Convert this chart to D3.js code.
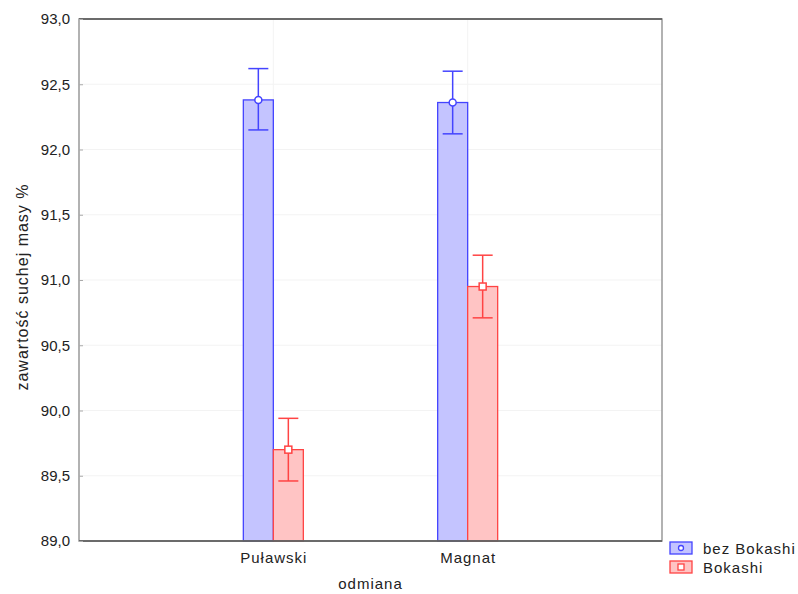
<!DOCTYPE html>
<html>
<head>
<meta charset="utf-8">
<script src="https://cdn.jsdelivr.net/npm/d3@7"></script>
<style>
body { margin: 0; background: #fff; }
text { font-family: "Liberation Sans", Arial, sans-serif; fill: #222; }
</style>
</head>
<body>
<div id="chart"></div>
<script>
var categories = ["Puławski", "Magnat"];
var seriesNames = ["bez Bokashi", "Bokashi"];
var meanBez = [92.38, 92.36];
var lowBez = [92.15, 92.12];
var highBez = [92.62, 92.60];
var meanBok = [89.70, 90.95];
var lowBok = [89.46, 90.71];
var highBok = [89.94, 91.19];
var yTicks = [89.0, 89.5, 90.0, 90.5, 91.0, 91.5, 92.0, 92.5, 93.0];

var width = 798, height = 594,
    margin = { top: 19, right: 136, bottom: 53, left: 79 },
    plotW = width - margin.left - margin.right,
    plotH = height - margin.top - margin.bottom;

var colors = [
    { fill: "#c4c4ff", stroke: "#4444ff" },
    { fill: "#ffc4c4", stroke: "#ff4444" }
];

var series = [
    { name: seriesNames[0], mean: meanBez, low: lowBez, high: highBez },
    { name: seriesNames[1], mean: meanBok, low: lowBok, high: highBok }
];

var svg = d3.select("#chart").append("svg")
    .attr("width", width)
    .attr("height", height);

var g = svg.append("g")
    .attr("transform", "translate(" + margin.left + "," + margin.top + ")");

var xScale = d3.scalePoint().domain(categories).range([0, plotW]).padding(1);
var yScale = d3.scaleLinear().domain([89, 93]).range([plotH, 0]);
var barW = 30;

// faint grid
g.selectAll(".hgrid").data(yTicks).enter().append("line")
    .attr("x1", 0).attr("x2", plotW)
    .attr("y1", function (d) { return yScale(d); })
    .attr("y2", function (d) { return yScale(d); })
    .attr("stroke", "#f3f3f3");
g.selectAll(".vgrid").data(categories).enter().append("line")
    .attr("x1", function (d) { return xScale(d); })
    .attr("x2", function (d) { return xScale(d); })
    .attr("y1", 0).attr("y2", plotH)
    .attr("stroke", "#f3f3f3");

// bars
series.forEach(function (s, si) {
    var off = si === 0 ? -barW : 0;
    var grp = g.append("g");
    grp.selectAll("rect").data(categories).enter().append("rect")
        .attr("x", function (d) { return xScale(d) + off; })
        .attr("y", function (d, i) { return yScale(s.mean[i]); })
        .attr("width", barW)
        .attr("height", function (d, i) { return plotH - yScale(s.mean[i]); })
        .attr("fill", colors[si].fill)
        .attr("stroke", colors[si].stroke)
        .attr("stroke-width", 1.3);
});

// error bars + markers
series.forEach(function (s, si) {
    var off = si === 0 ? -barW / 2 : barW / 2;
    var col = colors[si].stroke;
    var grp = g.append("g");
    categories.forEach(function (c, i) {
        var cx = xScale(c) + off;
        grp.append("line")
            .attr("x1", cx).attr("x2", cx)
            .attr("y1", yScale(s.low[i])).attr("y2", yScale(s.high[i]))
            .attr("stroke", col).attr("stroke-width", 1.5);
        [s.low[i], s.high[i]].forEach(function (v) {
            grp.append("line")
                .attr("x1", cx - 10).attr("x2", cx + 10)
                .attr("y1", yScale(v)).attr("y2", yScale(v))
                .attr("stroke", col).attr("stroke-width", 1.5);
        });
        if (si === 0) {
            grp.append("circle")
                .attr("cx", cx).attr("cy", yScale(s.mean[i])).attr("r", 3.5)
                .attr("fill", "#fff").attr("stroke", col).attr("stroke-width", 1.5);
        } else {
            grp.append("rect")
                .attr("x", cx - 3.5).attr("y", yScale(s.mean[i]) - 3.5)
                .attr("width", 7).attr("height", 7)
                .attr("fill", "#fff").attr("stroke", col).attr("stroke-width", 1.5);
        }
    });
});

// frame
g.append("rect")
    .attr("x", 0).attr("y", 0).attr("width", plotW).attr("height", plotH)
    .attr("fill", "none").attr("stroke", "#999").attr("stroke-width", 1.5);
g.append("line").attr("x1", 0).attr("x2", plotW).attr("y1", 0).attr("y2", 0)
    .attr("stroke", "#555").attr("stroke-width", 1.5);
g.append("line").attr("x1", 0).attr("x2", plotW).attr("y1", plotH).attr("y2", plotH)
    .attr("stroke", "#555").attr("stroke-width", 1.5);

// y axis
var fmt = function (d) { return d3.format(".1f")(d).replace(".", ","); };
var yAxis = d3.axisLeft(yScale).tickValues(yTicks).tickFormat(fmt).tickSize(-4).tickPadding(9);
g.append("g").attr("class", "axis axis--y")
    .call(yAxis)
    .call(function (a) {
        a.select(".domain").remove();
        a.selectAll("line").attr("stroke", "#aaa");
        a.selectAll("text").style("font-size", "15px").attr("fill", "#222");
    });

// x axis
var xAxis = d3.axisBottom(xScale).tickSize(0).tickPadding(11);
g.append("g").attr("class", "axis axis--x")
    .attr("transform", "translate(0," + plotH + ")")
    .call(xAxis)
    .call(function (a) {
        a.select(".domain").remove();
        a.selectAll("text").style("font-size", "15px").style("letter-spacing", "1px")
            .attr("fill", "#222");
    });

// axis titles
svg.append("text")
    .attr("x", margin.left + plotW / 2)
    .attr("y", 589)
    .attr("text-anchor", "middle")
    .style("font-size", "15px")
    .style("letter-spacing", "1px")
    .text("odmiana");
svg.append("text")
    .attr("transform", "translate(28," + 287 + ") rotate(-90)")
    .attr("text-anchor", "middle")
    .style("font-size", "16px")
    .style("letter-spacing", "1px")
    .text("zawartość suchej masy %");

// legend
var legend = svg.selectAll(".legend").data(series).enter().append("g")
    .attr("class", "legend")
    .attr("transform", function (d, i) { return "translate(670," + (542 + i * 19) + ")"; });
legend.append("rect")
    .attr("width", 22).attr("height", 12)
    .attr("fill", function (d, i) { return colors[i].fill; })
    .attr("stroke", function (d, i) { return colors[i].stroke; })
    .attr("stroke-width", 1.3);
legend.each(function (d, i) {
    var l = d3.select(this);
    if (i === 0) {
        l.append("circle").attr("cx", 11).attr("cy", 6).attr("r", 2.5)
            .attr("fill", "#fff").attr("stroke", colors[i].stroke).attr("stroke-width", 1.3);
    } else {
        l.append("rect").attr("x", 8).attr("y", 3).attr("width", 6).attr("height", 6)
            .attr("fill", "#fff").attr("stroke", colors[i].stroke).attr("stroke-width", 1.3);
    }
});
legend.append("text")
    .attr("x", 33).attr("y", 12)
    .style("font-size", "15px")
    .style("letter-spacing", "1px")
    .text(function (d) { return d.name; });
</script>
</body>
</html>
